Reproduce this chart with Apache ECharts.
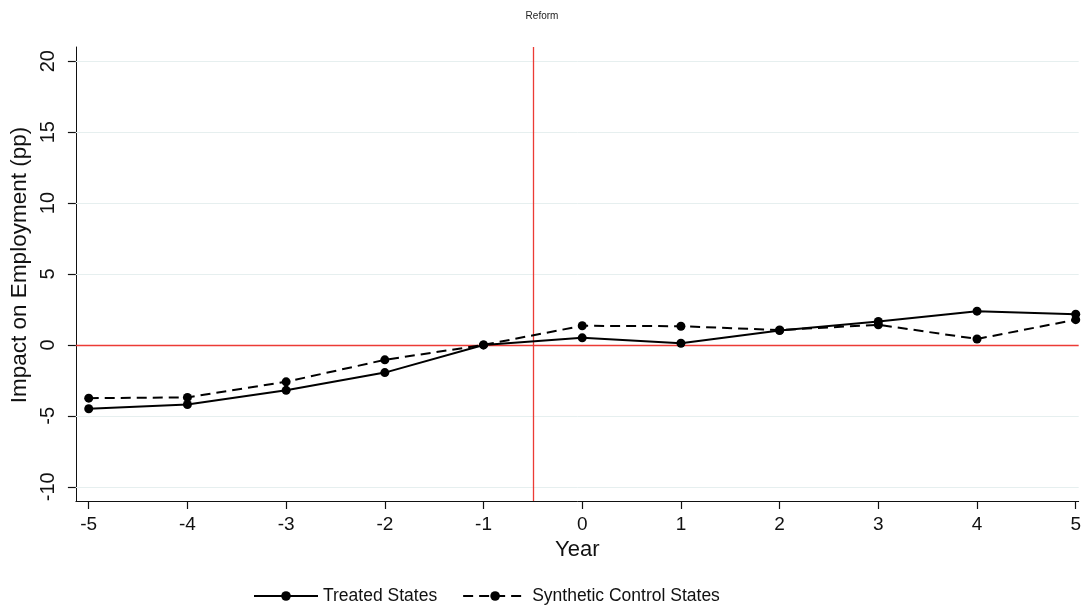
<!DOCTYPE html>
<html>
<head>
<meta charset="utf-8">
<script src="https://cdn.jsdelivr.net/npm/echarts@6/dist/echarts.min.js"></script>
<style>html,body{margin:0;padding:0;background:#fff;}#c{width:1084px;height:605px;}</style>
</head>
<body>
<div id="c"></div>
<script>
const years = [-5, -4, -3, -2, -1, 0, 1, 2, 3, 4, 5];
const treated = [-4.5, -4.2, -3.2, -1.95, 0, 0.5, 0.12, 1.02, 1.65, 2.38, 2.17];
const synthetic = [-3.75, -3.7, -2.6, -1.05, 0, 1.35, 1.32, 1.05, 1.42, 0.42, 1.78];
const yTicks = [-10, -5, 0, 5, 10, 15, 20];
const xTicks = [-5, -4, -3, -2, -1, 0, 1, 2, 3, 4, 5];
const reformLine = -0.5;
const zeroLine = 0;
const titleText = 'Reform';
const seriesNames = ['Treated States', 'Synthetic Control States'];

const font = 'Liberation Sans, Arial, sans-serif';
const chart = echarts.init(document.getElementById('c'), null, {renderer: 'canvas'});
chart.setOption({
  animation: false,
  backgroundColor: '#fff',
  title: {text: titleText, left: 'center', top: 6, textStyle: {fontFamily: font, fontSize: 10, fontWeight: 'normal', color: '#222'}},
  grid: {left: 74, right: 4, top: 47, bottom: 104},
  legend: {
    top: 587, left: 253, padding: 0, itemWidth: 64, itemHeight: 12, itemGap: 25,
    textStyle: {fontFamily: font, fontSize: 17.5, color: '#111'},
    data: seriesNames
  },
  xAxis: {
    type: 'value', min: -5.13, max: 5.03,
    name: 'Year', nameLocation: 'middle', nameGap: 36,
    nameTextStyle: {fontFamily: font, fontSize: 22, color: '#111'},
    axisLine: {show: true, onZero: false, lineStyle: {color: '#111', width: 1}},
    axisTick: {show: true, length: 8, lineStyle: {color: '#111', width: 1.2}, customValues: xTicks},
    axisLabel: {fontFamily: font, fontSize: 19, color: '#111', margin: 14, customValues: xTicks, formatter: v => String(v)},
    splitLine: {show: false}
  },
  yAxis: {
    type: 'value', min: -11, max: 21,
    name: 'Impact on Employment (pp)', nameLocation: 'middle', nameGap: 44,
    nameTextStyle: {fontFamily: font, fontSize: 22.5, color: '#111', padding: [0, 0, 0, 18]},
    axisLine: {show: true, onZero: false, lineStyle: {color: '#111', width: 1}},
    axisTick: {show: true, length: 8, lineStyle: {color: '#111', width: 1.2}, customValues: yTicks},
    axisLabel: {fontFamily: font, fontSize: 20, color: '#111', margin: 17, rotate: 90, customValues: yTicks, formatter: v => String(v)},
    splitLine: {show: false}
  },
  series: [
    {
      name: 'grid', type: 'line', data: [], silent: true, legendHoverLink: false,
      markLine: {
        silent: true, symbol: 'none', label: {show: false},
        lineStyle: {color: '#e6efef', width: 1, type: 'solid'},
        data: yTicks.filter(v => v !== zeroLine).map(v => ({yAxis: v}))
      }
    },
    {
      name: 'ref', type: 'line', data: [], silent: true, z: 3,
      markLine: {
        silent: true, symbol: 'none', label: {show: false},
        lineStyle: {color: '#ec3b35', width: 1.3, type: 'solid'},
        data: [{yAxis: zeroLine}, {xAxis: reformLine}]
      }
    },
    {
      name: seriesNames[0], type: 'line', data: years.map((x, i) => [x, treated[i]]),
      symbol: 'circle', symbolSize: 9, z: 5,
      itemStyle: {color: '#000'}, lineStyle: {color: '#000', width: 2, type: 'solid'}
    },
    {
      name: seriesNames[1], type: 'line', data: years.map((x, i) => [x, synthetic[i]]),
      symbol: 'circle', symbolSize: 9, z: 5,
      itemStyle: {color: '#000'}, lineStyle: {color: '#000', width: 2, type: [10, 6]}
    }
  ]
});
</script>
</body>
</html>
